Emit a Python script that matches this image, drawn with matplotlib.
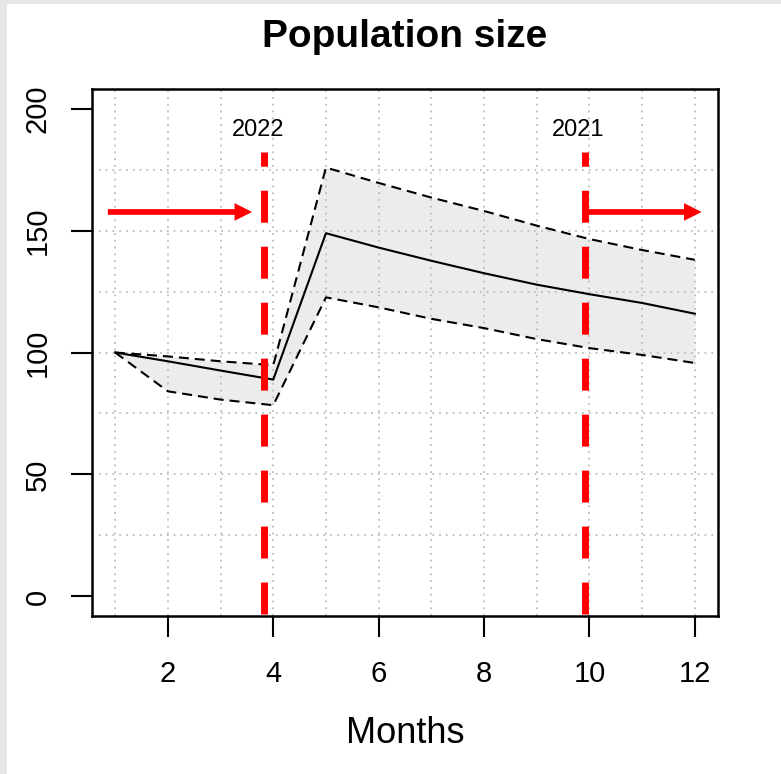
import matplotlib
matplotlib.use("Agg")
import matplotlib.pyplot as plt
import numpy as np
from matplotlib.patches import Rectangle

plt.rcParams['font.family'] = ['Liberation Sans', 'DejaVu Sans']
plt.rcParams['lines.scale_dashes'] = False

# Population size per month: mean with upper/lower bounds
months = [1, 2, 3, 4, 5, 6, 7, 8, 9, 10, 11, 12]
mean_size = [100, 96.4, 92.6, 88.9, 148.9, 143.0, 137.6, 132.5, 127.8, 123.9, 120.3, 115.9]
upper_size = [100, 98.4, 96.4, 94.8, 175.8, 169.5, 163.5, 158.0, 152.0, 146.5, 142.0, 138.0]
lower_size = [100, 84.1, 80.7, 78.4, 122.6, 118.5, 113.8, 110.0, 105.5, 101.8, 99.0, 95.7]

# Year cut-offs and the arrows pointing away from them
cut_months = [3.82, 9.91]
cut_labels = ['2022', '2021']
cut_label_months = [3.71, 9.78]
arrow_starts = [0.86, 9.93]
arrow_ends = [3.60, 12.13]
arrow_level = 157.6

fig = plt.figure(figsize=(7.81, 7.74), dpi=100, facecolor='#e6e6e6')
fig.add_artist(Rectangle((7 / 781, 0), 1, 1 - 4 / 774, transform=fig.transFigure,
                         facecolor='white', edgecolor='none', zorder=-1))

ax = fig.add_axes([92 / 781, 1 - 616 / 774, (718 - 92) / 781, (616 - 89) / 774])
ax.set_xlim(0.56, 12.44)
ax.set_ylim(-8, 208)

# confidence band
ax.fill_between(months, lower_size, upper_size, color='#ebecec', lw=0, zorder=1)

# dotted grid
for gx in np.arange(1, 13):
    ax.axvline(gx, color='#bdbdbd', lw=1.3, linestyle=(0, (1.3, 3.6)), zorder=1.5)
for gy in np.arange(25, 200, 25):
    ax.axhline(gy, color='#bdbdbd', lw=1.3, linestyle=(0, (1.3, 3.6)), zorder=1.5)

ax.plot(months, upper_size, color='black', lw=1.5, linestyle=(0, (7.2, 4.3)), zorder=3)
ax.plot(months, lower_size, color='black', lw=1.5, linestyle=(0, (7.2, 4.3)), zorder=3)
ax.plot(months, mean_size, color='black', lw=1.5, zorder=3)

for xm in cut_months:
    ax.plot([xm, xm], [-7, 182], color='red', lw=5, linestyle=(0, (23, 17.3)),
            dash_capstyle='butt', zorder=4)
for xm, lab in zip(cut_label_months, cut_labels):
    ax.text(xm, 191, lab, ha='center', va='center', fontsize=17, zorder=5)

for x0, x1 in zip(arrow_starts, arrow_ends):
    ax.annotate('', xy=(x1, arrow_level), xytext=(x0, arrow_level),
                arrowprops=dict(arrowstyle='simple,head_length=1.27,head_width=1.27,tail_width=0.41',
                                mutation_scale=10, fc='red', ec='none', lw=0,
                                shrinkA=0, shrinkB=0), zorder=5)

ax.set_xticks(np.arange(2, 13, 2))
ax.set_yticks(np.arange(0, 201, 50))
for sp in ax.spines.values():
    sp.set_linewidth(1.8)
ax.tick_params(length=15, width=1.5, labelsize=21, pad=17)
ax.tick_params(axis='y', labelrotation=90, pad=14)
for lab in ax.get_yticklabels():
    lab.set_va('center')

ax.set_xlabel('Months', fontsize=26, labelpad=20)
fig.text(405 / 781, 1 - 47 / 774, 'Population size', ha='center', va='baseline',
         fontsize=28, fontweight='bold')

fig.savefig('out.png', dpi=100, facecolor=fig.get_facecolor())
